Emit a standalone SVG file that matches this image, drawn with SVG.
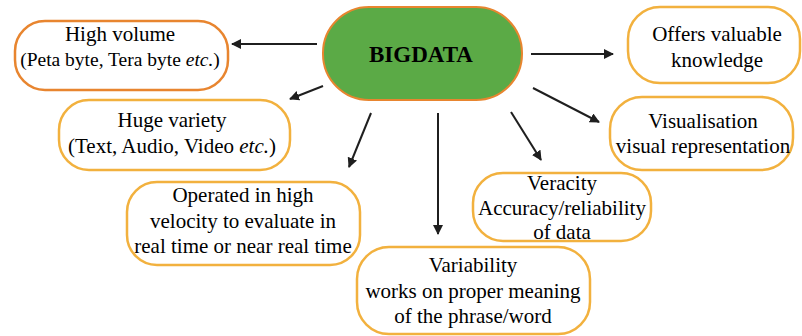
<svg xmlns="http://www.w3.org/2000/svg" width="802" height="336" viewBox="0 0 802 336">
<defs>
<marker id="ah" viewBox="0 0 10 10" refX="9" refY="5" markerWidth="10" markerHeight="10" markerUnits="userSpaceOnUse" orient="auto">
<path d="M0,0 L10,5 L0,10 Z" fill="#1f1f1f"/>
</marker>
</defs>
<style>
.box{fill:#ffffff;stroke:#F2B13E;stroke-width:2.5}
.box2{fill:#ffffff;stroke:#E8852F;stroke-width:2.5}
.c{stroke:#1f1f1f;stroke-width:2;fill:none;marker-end:url(#ah)}
</style>
<rect width="802" height="336" fill="#ffffff"/>
<g id="connectors">
<line class="c" x1="317" y1="44" x2="232" y2="44"/>
<line class="c" x1="323" y1="86" x2="290" y2="99"/>
<line class="c" x1="371" y1="113" x2="349" y2="167"/>
<line class="c" x1="438" y1="113" x2="438" y2="234"/>
<line class="c" x1="511" y1="112" x2="541" y2="160"/>
<line class="c" x1="533" y1="88" x2="599" y2="122"/>
<line class="c" x1="531" y1="54" x2="613" y2="54"/>
</g>
<g font-family="Liberation Serif, serif" font-size="21" fill="#000" text-anchor="middle">
<g id="bigdata">
<rect x="323" y="7" width="199" height="93" rx="46" fill="#5BAA46" stroke="#E8852F" stroke-width="2"/>
<text x="421" y="62" font-size="23" font-weight="bold">BIGDATA</text>
</g>
<g id="high-volume">
<rect class="box2" x="15" y="21" width="213" height="69" rx="30"/>
<text x="120" y="41">High volume</text>
<text x="120" y="66" font-size="19.5">(Peta byte, Tera byte <tspan font-style="italic">etc.</tspan>)</text>
</g>
<g id="huge-variety">
<rect class="box" x="59" y="100" width="231" height="70" rx="30"/>
<text x="172" y="127">Huge variety</text>
<text x="172" y="153">(Text, Audio, Video <tspan font-style="italic">etc.</tspan>)</text>
</g>
<g id="velocity">
<rect class="box" x="127" y="182" width="233" height="83" rx="30"/>
<text x="243" y="202">Operated in high</text>
<text x="243" y="228">velocity to evaluate in</text>
<text x="243" y="253">real time or near real time</text>
</g>
<g id="variability">
<rect class="box" x="357" y="247" width="233" height="87" rx="32"/>
<text x="473" y="272">Variability</text>
<text x="473" y="298">works on proper meaning</text>
<text x="473" y="323">of the phrase/word</text>
</g>
<g id="veracity">
<rect class="box" x="473" y="173" width="178" height="68" rx="30"/>
<text x="562" y="190">Veracity</text>
<text x="562" y="215">Accuracy/reliability</text>
<text x="562" y="239">of data</text>
</g>
<g id="visualisation">
<rect class="box" x="610" y="97" width="183" height="73" rx="32"/>
<text x="703" y="128">Visualisation</text>
<text x="703" y="153">visual representation</text>
</g>
<g id="offers">
<rect class="box" x="628" y="7" width="172" height="76" rx="32"/>
<text x="717" y="41">Offers valuable</text>
<text x="717" y="67">knowledge</text>
</g>
</g>
</svg>
